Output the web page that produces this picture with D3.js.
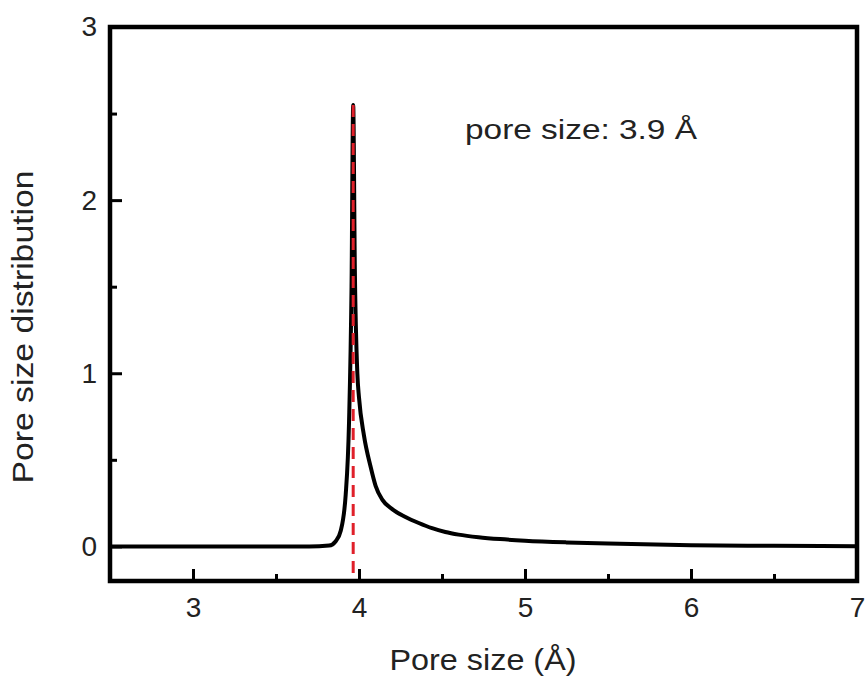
<!DOCTYPE html>
<html>
<head>
<meta charset="utf-8">
<script src="https://cdn.jsdelivr.net/npm/d3@7"></script>
<style>
  body { margin: 0; background: #fff; }
  text { font-family: "Liberation Sans", Arial, sans-serif; fill: #222; }
</style>
</head>
<body>
<div id="chart"></div>
<script>
// Pore size (Å) and distribution values
const poreSize = [2.5, 3.7, 3.82, 3.86, 3.89, 3.92, 3.94, 3.955, 3.965, 3.975, 3.99, 4.0,
  4.03, 4.07, 4.1, 4.14, 4.2, 4.28, 4.36, 4.44, 4.52, 4.6, 4.72, 4.85, 5.0, 5.25, 5.5, 6.0, 6.5, 7.0];
const distribution = [0, 0, 0.005, 0.03, 0.09, 0.3, 0.72, 1.5, 2.55, 1.6, 1.0, 0.86,
  0.64, 0.46, 0.35, 0.27, 0.215, 0.17, 0.135, 0.105, 0.083, 0.068, 0.053, 0.042, 0.033,
  0.023, 0.016, 0.007, 0.003, 0.001];

const xTicks = [3, 4, 5, 6, 7];
const xMinor = [3.5, 4.5, 5.5, 6.5];
const yTicks = [0, 1, 2, 3];
const yMinor = [0.5, 1.5, 2.5];

const peakPos = 3.965;
const peakVal = 2.55;
const noteText = "pore size: 3.9 Å";

const width = 866, height = 681;
const margin = {top: 27, right: 9, bottom: 100, left: 110};
const plotW = width - margin.left - margin.right;
const plotH = height - margin.top - margin.bottom;

const svg = d3.select("#chart").append("svg")
    .attr("width", width)
    .attr("height", height);

const g = svg.append("g")
    .attr("transform", "translate(" + margin.left + "," + margin.top + ")");

const x = d3.scaleLinear().domain([2.5, 7]).range([0, plotW]);
const y = d3.scaleLinear().domain([-0.2, 3]).range([plotH, 0]);

// minor ticks first (no labels)
g.append("g")
    .attr("transform", "translate(0," + plotH + ")")
    .call(d3.axisBottom(x).tickValues(xMinor).tickSize(-7).tickFormat(""))
    .call(a => a.select(".domain").remove())
    .call(a => a.selectAll("line").attr("stroke", "#000").attr("stroke-width", 3));

g.append("g")
    .call(d3.axisLeft(y).tickValues(yMinor).tickSize(-7).tickFormat(""))
    .call(a => a.select(".domain").remove())
    .call(a => a.selectAll("line").attr("stroke", "#000").attr("stroke-width", 3));

// major ticks
g.append("g")
    .attr("transform", "translate(0," + plotH + ")")
    .call(d3.axisBottom(x).tickValues(xTicks).tickSize(-12).tickPadding(16).tickFormat(d3.format("d")))
    .call(a => a.select(".domain").remove())
    .call(a => a.selectAll("line").attr("stroke", "#000").attr("stroke-width", 3))
    .call(a => a.selectAll("text").attr("font-size", 28).attr("fill", "#222")
        .style("font-family", "'Liberation Sans', Arial, sans-serif"));

g.append("g")
    .call(d3.axisLeft(y).tickValues(yTicks).tickSize(-12).tickPadding(13).tickFormat(d3.format("d")))
    .call(a => a.select(".domain").remove())
    .call(a => a.selectAll("line").attr("stroke", "#000").attr("stroke-width", 3))
    .call(a => a.selectAll("text").attr("font-size", 28).attr("fill", "#222")
        .style("font-family", "'Liberation Sans', Arial, sans-serif"));

// curve
const data = poreSize.map((p, i) => ({x: p, y: distribution[i]}));
const line = d3.line()
    .x(d => x(d.x))
    .y(d => y(d.y))
    .curve(d3.curveMonotoneX);

g.append("path")
    .datum(data)
    .attr("d", line)
    .attr("fill", "none")
    .attr("stroke", "#000")
    .attr("stroke-width", 4)
    .attr("stroke-linejoin", "round");

// red dashed marker at the peak
g.append("line")
    .attr("x1", x(peakPos)).attr("x2", x(peakPos))
    .attr("y1", y(peakVal)).attr("y2", y(-0.2))
    .attr("stroke", "#e0202a")
    .attr("stroke-width", 3)
    .attr("stroke-dasharray", "12,7");

// frame
g.append("rect")
    .attr("width", plotW)
    .attr("height", plotH)
    .attr("fill", "none")
    .attr("stroke", "#000")
    .attr("stroke-width", 4.5);

// annotation
g.append("text")
    .attr("x", 465 - margin.left)
    .attr("y", 139 - margin.top)
    .attr("font-size", 28)
    .attr("textLength", 232)
    .attr("lengthAdjust", "spacingAndGlyphs")
    .text(noteText);

// axis titles
svg.append("text")
    .attr("x", 483)
    .attr("y", 670)
    .attr("text-anchor", "middle")
    .attr("font-size", 29)
    .attr("textLength", 187)
    .attr("lengthAdjust", "spacingAndGlyphs")
    .text("Pore size (Å)");

svg.append("text")
    .attr("transform", "translate(33,327) rotate(-90)")
    .attr("text-anchor", "middle")
    .attr("font-size", 29)
    .attr("textLength", 313)
    .attr("lengthAdjust", "spacingAndGlyphs")
    .text("Pore size distribution");
</script>
</body>
</html>
